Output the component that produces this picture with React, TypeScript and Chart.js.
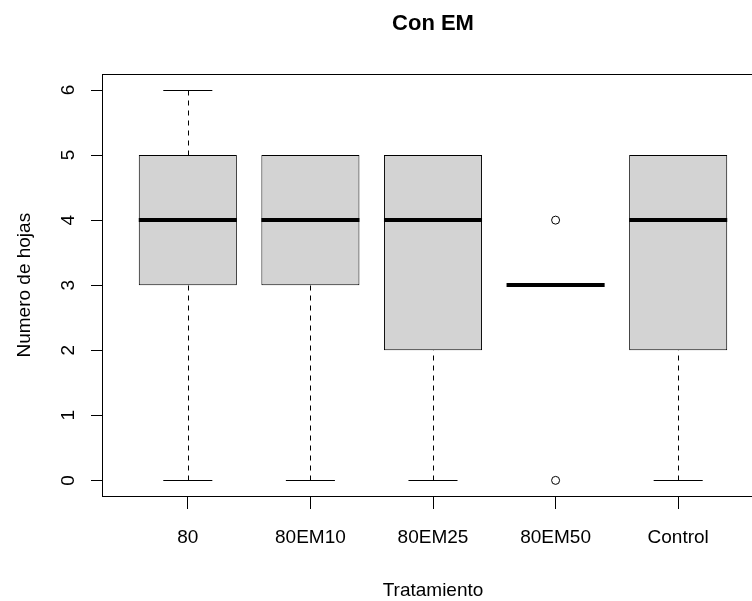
import React, { useEffect, useRef } from 'react';
import { Chart, registerables } from 'chart.js';

Chart.register(...registerables);

// Leaf counts per treatment, summarised as box-plot statistics
const categories = ['80', '80EM10', '80EM25', '80EM50', 'Control'];
const whiskerLow = [0, 0, 0, 3, 0];
const quartile1 = [3, 3, 2, 3, 2];
const medians = [4, 4, 4, 3, 4];
const quartile3 = [5, 5, 5, 3, 5];
const whiskerHigh = [6, 5, 5, 3, 5];
const outlierCategories = ['80EM50', '80EM50'];
const outlierValues = [4, 0];
const yTickValues = [0, 1, 2, 3, 4, 5, 6];

const FONT = '"Liberation Sans", Arial, Helvetica, sans-serif';

// Whiskers, caps, medians and the plot frame, drawn with the chart's scales
const boxPartsPlugin = {
  id: 'boxParts',
  afterDatasetsDraw(chart: any) {
    const { ctx } = chart;
    const xs = chart.scales.x;
    const ys = chart.scales.y;
    const unit = Math.abs(xs.getPixelForValue(1) - xs.getPixelForValue(0));
    const boxHalf = unit * 0.4;
    const capHalf = unit * 0.2;
    const seg = (x1: number, y1: number, x2: number, y2: number) => {
      ctx.beginPath();
      ctx.moveTo(x1, y1);
      ctx.lineTo(x2, y2);
      ctx.stroke();
    };
    ctx.save();
    ctx.strokeStyle = '#000';
    ctx.lineCap = 'butt';
    categories.forEach((_, i) => {
      const cx = xs.getPixelForValue(i + 1);
      const px = Math.round(cx) + 0.5;
      const yLo = Math.round(ys.getPixelForValue(whiskerLow[i])) + 0.5;
      const yHi = Math.round(ys.getPixelForValue(whiskerHigh[i])) + 0.5;
      const yQ1 = ys.getPixelForValue(quartile1[i]);
      const yQ3 = ys.getPixelForValue(quartile3[i]);
      // dashed whiskers, from the extremes towards the box
      ctx.lineWidth = 1;
      ctx.setLineDash([5, 5]);
      if (whiskerHigh[i] > quartile3[i]) seg(px, yHi, px, yQ3);
      if (whiskerLow[i] < quartile1[i]) seg(px, yLo, px, yQ1);
      ctx.setLineDash([]);
      // staples
      seg(cx - capHalf, yHi, cx + capHalf, yHi);
      seg(cx - capHalf, yLo, cx + capHalf, yLo);
      // median
      ctx.lineWidth = 4;
      const yMed = Math.round(ys.getPixelForValue(medians[i]));
      seg(cx - boxHalf, yMed, cx + boxHalf, yMed);
    });
    ctx.restore();
  },
  afterDraw(chart: any) {
    const { ctx, chartArea: a } = chart;
    ctx.save();
    ctx.strokeStyle = '#000';
    ctx.lineWidth = 1;
    ctx.strokeRect(Math.round(a.left) + 0.5, Math.round(a.top) + 0.5,
      Math.round(a.right - a.left), Math.round(a.bottom - a.top));
    ctx.restore();
  },
};

export default function App() {
  const canvasRef = useRef<HTMLCanvasElement | null>(null);

  useEffect(() => {
    const canvas = canvasRef.current;
    if (!canvas) return;

    const boxData = categories.map((_, i) => ({ x: i + 1, y: [quartile1[i], quartile3[i]] }));
    const outlierData = outlierValues.map((v, i) => ({
      x: categories.indexOf(outlierCategories[i]) + 1,
      y: v,
    }));

    const chart = new Chart(canvas, {
      type: 'bar',
      data: {
        datasets: [
          {
            type: 'bar',
            data: boxData as any,
            backgroundColor: '#D3D3D3',
            borderColor: '#000',
            borderWidth: 1,
            borderSkipped: false,
            barPercentage: 0.8,
            categoryPercentage: 1,
          },
          {
            type: 'scatter',
            data: outlierData,
            pointStyle: 'circle',
            pointRadius: 4,
            pointBorderWidth: 1,
            pointBorderColor: '#000',
            pointBackgroundColor: 'rgba(0,0,0,0)',
          } as any,
        ],
      },
      options: {
        responsive: false,
        devicePixelRatio: 1,
        animation: false,
        layout: { padding: { left: 0, right: 16, top: 0, bottom: 0 } },
        plugins: {
          legend: { display: false },
          tooltip: { enabled: false },
          title: {
            display: true,
            text: 'Con EM',
            fullSize: false,
            color: '#000',
            font: { family: FONT, size: 22, weight: 'bold' },
            padding: { top: 11, bottom: 37 },
          },
        },
        scales: {
          x: {
            type: 'linear',
            min: 0.3,
            max: 5.7,
            offset: false,
            afterBuildTicks: (s: any) => {
              s.ticks = categories.map((_, i) => ({ value: i + 1 }));
            },
            afterFit: (s: any) => {
              s.height = 105;
            },
            grid: {
              offset: false,
              drawOnChartArea: false,
              drawTicks: true,
              tickLength: 13,
              color: '#000',
              tickColor: '#000',
            },
            border: { display: false },
            ticks: {
              autoSkip: false,
              maxRotation: 0,
              minRotation: 0,
              padding: 17,
              color: '#000',
              font: { family: FONT, size: 19 },
              callback: (v: any) => categories[Math.round(Number(v)) - 1] ?? '',
            },
            title: {
              display: true,
              text: 'Tratamiento',
              color: '#000',
              font: { family: FONT, size: 19 },
              padding: { top: 0, bottom: -1 },
            },
          },
          y: {
            type: 'linear',
            min: -0.24,
            max: 6.24,
            afterBuildTicks: (s: any) => {
              s.ticks = yTickValues.map((v) => ({ value: v }));
            },
            afterFit: (s: any) => {
              s.width = 102;
            },
            grid: {
              drawOnChartArea: false,
              drawTicks: true,
              tickLength: 11,
              color: '#000',
              tickColor: '#000',
            },
            border: { display: false },
            ticks: {
              minRotation: 90,
              maxRotation: 90,
              crossAlign: 'center',
              padding: 17,
              color: '#000',
              font: { family: FONT, size: 19 },
            },
            title: {
              display: true,
              text: 'Numero de hojas',
              color: '#000',
              font: { family: FONT, size: 19 },
              padding: { top: 13, bottom: 0 },
            },
          },
        },
      } as any,
      plugins: [boxPartsPlugin],
    });

    return () => chart.destroy();
  }, []);

  return (
    <div
      style={{
        position: 'fixed',
        left: 0,
        top: 0,
        width: 752,
        height: 601,
        overflow: 'hidden',
        background: '#fff',
      }}
    >
      <canvas ref={canvasRef} width={780} height={601} style={{ display: 'block' }} />
    </div>
  );
}
